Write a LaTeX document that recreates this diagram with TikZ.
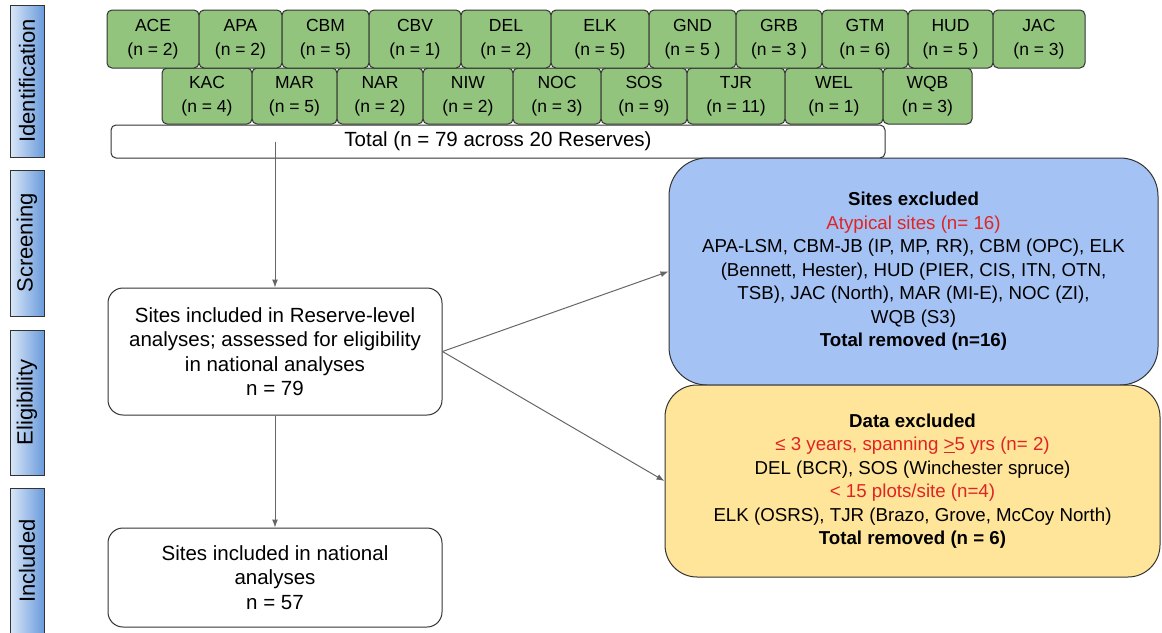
\documentclass[tikz,border=0pt]{standalone}
\usepackage{fontspec}
\usepackage{graphicx}
\setmainfont{Liberation Sans}
\usetikzlibrary{arrows.meta}

\definecolor{sitegreen}{HTML}{93C47D}
\definecolor{exblue}{HTML}{A4C2F4}
\definecolor{exyellow}{HTML}{FFE599}
\definecolor{exred}{HTML}{E02424}
\definecolor{edgegray}{HTML}{333333}
\definecolor{arrowgray}{HTML}{666666}
\definecolor{barlight}{HTML}{DAE7F8}
\definecolor{bardark}{HTML}{6A9BDB}

\tikzset{
	site/.style={draw=edgegray, fill=sitegreen, rounded corners=5pt, line width=1pt, inner sep=0pt, align=center, font=\fontsize{17.5}{24}\selectfont},
	stage/.style={draw=edgegray, left color=barlight, right color=bardark, line width=1pt, inner sep=0pt, minimum width=34pt, font=\fontsize{22}{24}\selectfont},
	flowbox/.style={draw=edgegray, fill=white, rounded corners=15pt, line width=1pt, inner sep=0pt, align=center, font=\fontsize{20.5}{24.5}\selectfont},
	excl/.style={draw=edgegray, rounded corners=38pt, line width=1pt, inner sep=0pt, align=center, font=\fontsize{18.7}{23.5}\selectfont},
	flow/.style={draw=arrowgray, line width=1pt, -{Latex[length=8pt,width=6pt]}},
}

\begin{document}
\begin{tikzpicture}[x=1pt, y=-1pt]
		\useasboundingbox (0,0) rectangle (1162,632);
		
		% Stage bars
		\node[stage, minimum height=152pt] (identbar) at (27,81) {\rotatebox{90}{Identification}};
		\node[stage, minimum height=146pt] (screenbar) at (27,243) {\rotatebox{90}{Screening}};
		\node[stage, minimum height=145pt] (eligbar) at (27,402.5) {\rotatebox{90}{Eligibility}};
		\node[stage, minimum height=146pt] (inclbar) at (27,561) {\rotatebox{90}{Included}};
		
		% Reserves, second row
		\node[site, minimum width=90pt, minimum height=56pt] (kac) at (207,96) {KAC\\(n = 4)};
		\node[site, minimum width=85pt, minimum height=56pt] (mar) at (294.5,96) {MAR\\(n = 5)};
		\node[site, minimum width=86pt, minimum height=56pt] (nar) at (380,96) {NAR\\(n = 2)};
		\node[site, minimum width=90pt, minimum height=56pt] (niw) at (468,96) {NIW\\(n = 2)};
		\node[site, minimum width=88pt, minimum height=56pt] (noc) at (557,96) {NOC\\(n = 3)};
		\node[site, minimum width=86pt, minimum height=56pt] (sos) at (644,96) {SOS\\(n = 9)};
		\node[site, minimum width=98pt, minimum height=56pt] (tjr) at (736,96) {TJR\\(n = 11)};
		\node[site, minimum width=98pt, minimum height=56pt] (wel) at (834,96) {WEL\\(n = 1)};
		\node[site, minimum width=89pt, minimum height=56pt] (wqb) at (927.5,96) {WQB\\(n = 3)};
		
		% Reserves, first row
		\node[site, minimum width=92pt, minimum height=58pt] (ace) at (153,39) {ACE\\(n = 2)};
		\node[site, minimum width=83pt, minimum height=58pt] (apa) at (240.5,39) {APA\\(n = 2)};
		\node[site, minimum width=87pt, minimum height=58pt] (cbm) at (325.5,39) {CBM\\(n = 5)};
		\node[site, minimum width=92pt, minimum height=58pt] (cbv) at (415,39) {CBV\\(n = 1)};
		\node[site, minimum width=90pt, minimum height=58pt] (del) at (506,39) {DEL\\(n = 2)};
		\node[site, minimum width=98pt, minimum height=58pt] (elk) at (600,39) {ELK\\(n = 5)};
		\node[site, minimum width=87pt, minimum height=58pt] (gnd) at (692.5,39) {GND\\(n = 5 )};
		\node[site, minimum width=86pt, minimum height=58pt] (grb) at (779,39) {GRB\\(n = 3 )};
		\node[site, minimum width=86pt, minimum height=58pt] (gtm) at (865,39) {GTM\\(n = 6)};
		\node[site, minimum width=85pt, minimum height=58pt] (hud) at (950.5,39) {HUD\\(n = 5 )};
		\node[site, minimum width=92pt, minimum height=58pt] (jac) at (1039,39) {JAC\\(n = 3)};
		
		% Total
		\node[flowbox, rounded corners=5pt, minimum width=774pt, minimum height=33pt] (total) at (498,141.5) {Total (n = 79 across 20 Reserves)};
		
		% Reserve-level and national boxes
		\node[flowbox, minimum width=334pt, minimum height=127pt] (elig) at (275,351.5) {Sites included in Reserve-level\\analyses; assessed for eligibility\\in national analyses\\n = 79};
		\node[flowbox, minimum width=334pt, minimum height=99pt] (incl) at (275,577.5) {Sites included in national\\analyses\\n = 57};
		
		% Exclusions
		\node[excl, fill=exblue, minimum width=489pt, minimum height=227pt] (sites) at (913.5,271.5) {\textbf{Sites excluded}\\
			\textcolor{exred}{Atypical sites (n= 16)}\\
			APA-LSM, CBM-JB (IP, MP, RR), CBM (OPC), ELK\\
			(Bennett, Hester), HUD (PIER, CIS, ITN, OTN,\\
			TSB), JAC (North), MAR (MI-E), NOC (ZI),\\
			WQB (S3)\\
			\textbf{Total removed (n=16)}};
		\node[excl, fill=exyellow, rounded corners=32pt, minimum width=495pt, minimum height=192pt] (data) at (912.5,481) {\textbf{Data excluded}\\
			\textcolor{exred}{≤ 3 years, spanning \underline{>}5 yrs (n= 2)}\\
			DEL (BCR), SOS (Winchester spruce)\\
			\textcolor{exred}{< 15 plots/site (n=4)}\\
			ELK (OSRS), TJR (Brazo, Grove, McCoy North)\\
			\textbf{Total removed (n = 6)}};
		
		% Flow lines
		\draw[flow] (total.center -| elig.north) -- (elig.north);
		\draw[flow] (elig) -- (incl);
		\draw[flow] (elig.east) -- (sites.west);
		\draw[flow] (elig.east) -- (data.west);
	\end{tikzpicture}
\end{document}
